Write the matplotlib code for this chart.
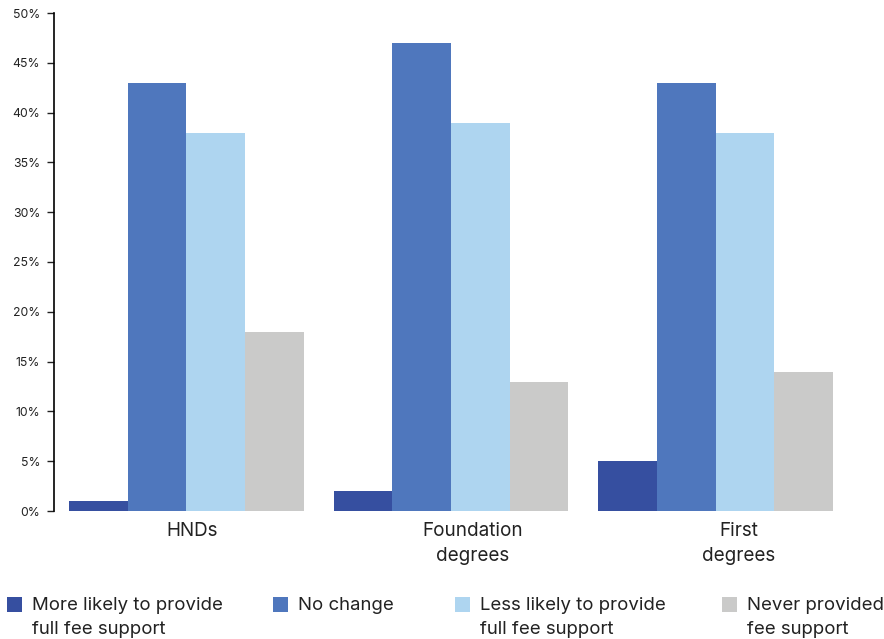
import matplotlib
matplotlib.use("Agg")
import matplotlib.pyplot as plt
import matplotlib.transforms as mtransforms
import numpy as np
from matplotlib.ticker import FuncFormatter
from matplotlib.patches import Rectangle

plt.rcParams['font.family'] = ['Inter', 'DejaVu Sans']

categories = ["HNDs", "Foundation\ndegrees", "First\ndegrees"]
series_names = ["More likely to provide\nfull fee support", "No change",
                "Less likely to provide\nfull fee support", "Never provided\nfee support"]
more_likely = [1, 2, 5]
no_change = [43, 47, 43]
less_likely = [38, 39, 38]
never_provided = [18, 13, 14]
series = [more_likely, no_change, less_likely, never_provided]
colors = ["#364FA0", "#4F77BD", "#AED5F0", "#CACAC9"]

fig = plt.figure(figsize=(8.84, 6.39), dpi=100)
W, H = 884, 639
ax = fig.add_axes([54 / W, 1 - 511 / H, (848 - 54) / W, (511 - 13) / H])

x = np.arange(len(categories))
group_w = 235 / 265
bw = group_w / 4
for i, (vals, c) in enumerate(zip(series, colors)):
    ax.bar(x - group_w / 2 + bw * (i + 0.5), vals, width=bw, color=c, linewidth=0)

ax.set_xlim(-0.5, 2.5)
ax.set_ylim(0, 50)
ax.set_yticks(np.arange(0, 51, 5))
ax.yaxis.set_major_formatter(FuncFormatter(lambda v, p: f"{int(v)}%"))
ax.tick_params(axis='y', labelsize=8.8, colors='#222222', length=5, width=1, direction='out', pad=5)
ax.set_xticks(x)
ax.set_xticklabels(categories, fontsize=13.6, color='#222222', linespacing=1.5)
ax.tick_params(axis='x', length=0, pad=8)
label_shift_px = [5.5, 22, 23]
for lab, dx in zip(ax.get_xticklabels(), label_shift_px):
    lab.set_transform(lab.get_transform() +
                      mtransforms.ScaledTranslation(dx / 100, 0, fig.dpi_scale_trans))
for s in ['top', 'right', 'bottom']:
    ax.spines[s].set_visible(False)
ax.spines['left'].set_color('black')
ax.spines['left'].set_linewidth(1.2)

xs = [7, 273, 455, 722]
for name, c, xp in zip(series_names, colors, xs):
    fig.patches.append(Rectangle((xp / W, 1 - 612 / H), 15 / W, 15 / H,
                                 transform=fig.transFigure, facecolor=c, edgecolor='none'))
    fig.text((xp + 25) / W, 1 - 597 / H, name, fontsize=13.4, color='#222222',
             va='top', ha='left', linespacing=1.55,
             transform=fig.transFigure)

fig.savefig("out.png", dpi=100)
